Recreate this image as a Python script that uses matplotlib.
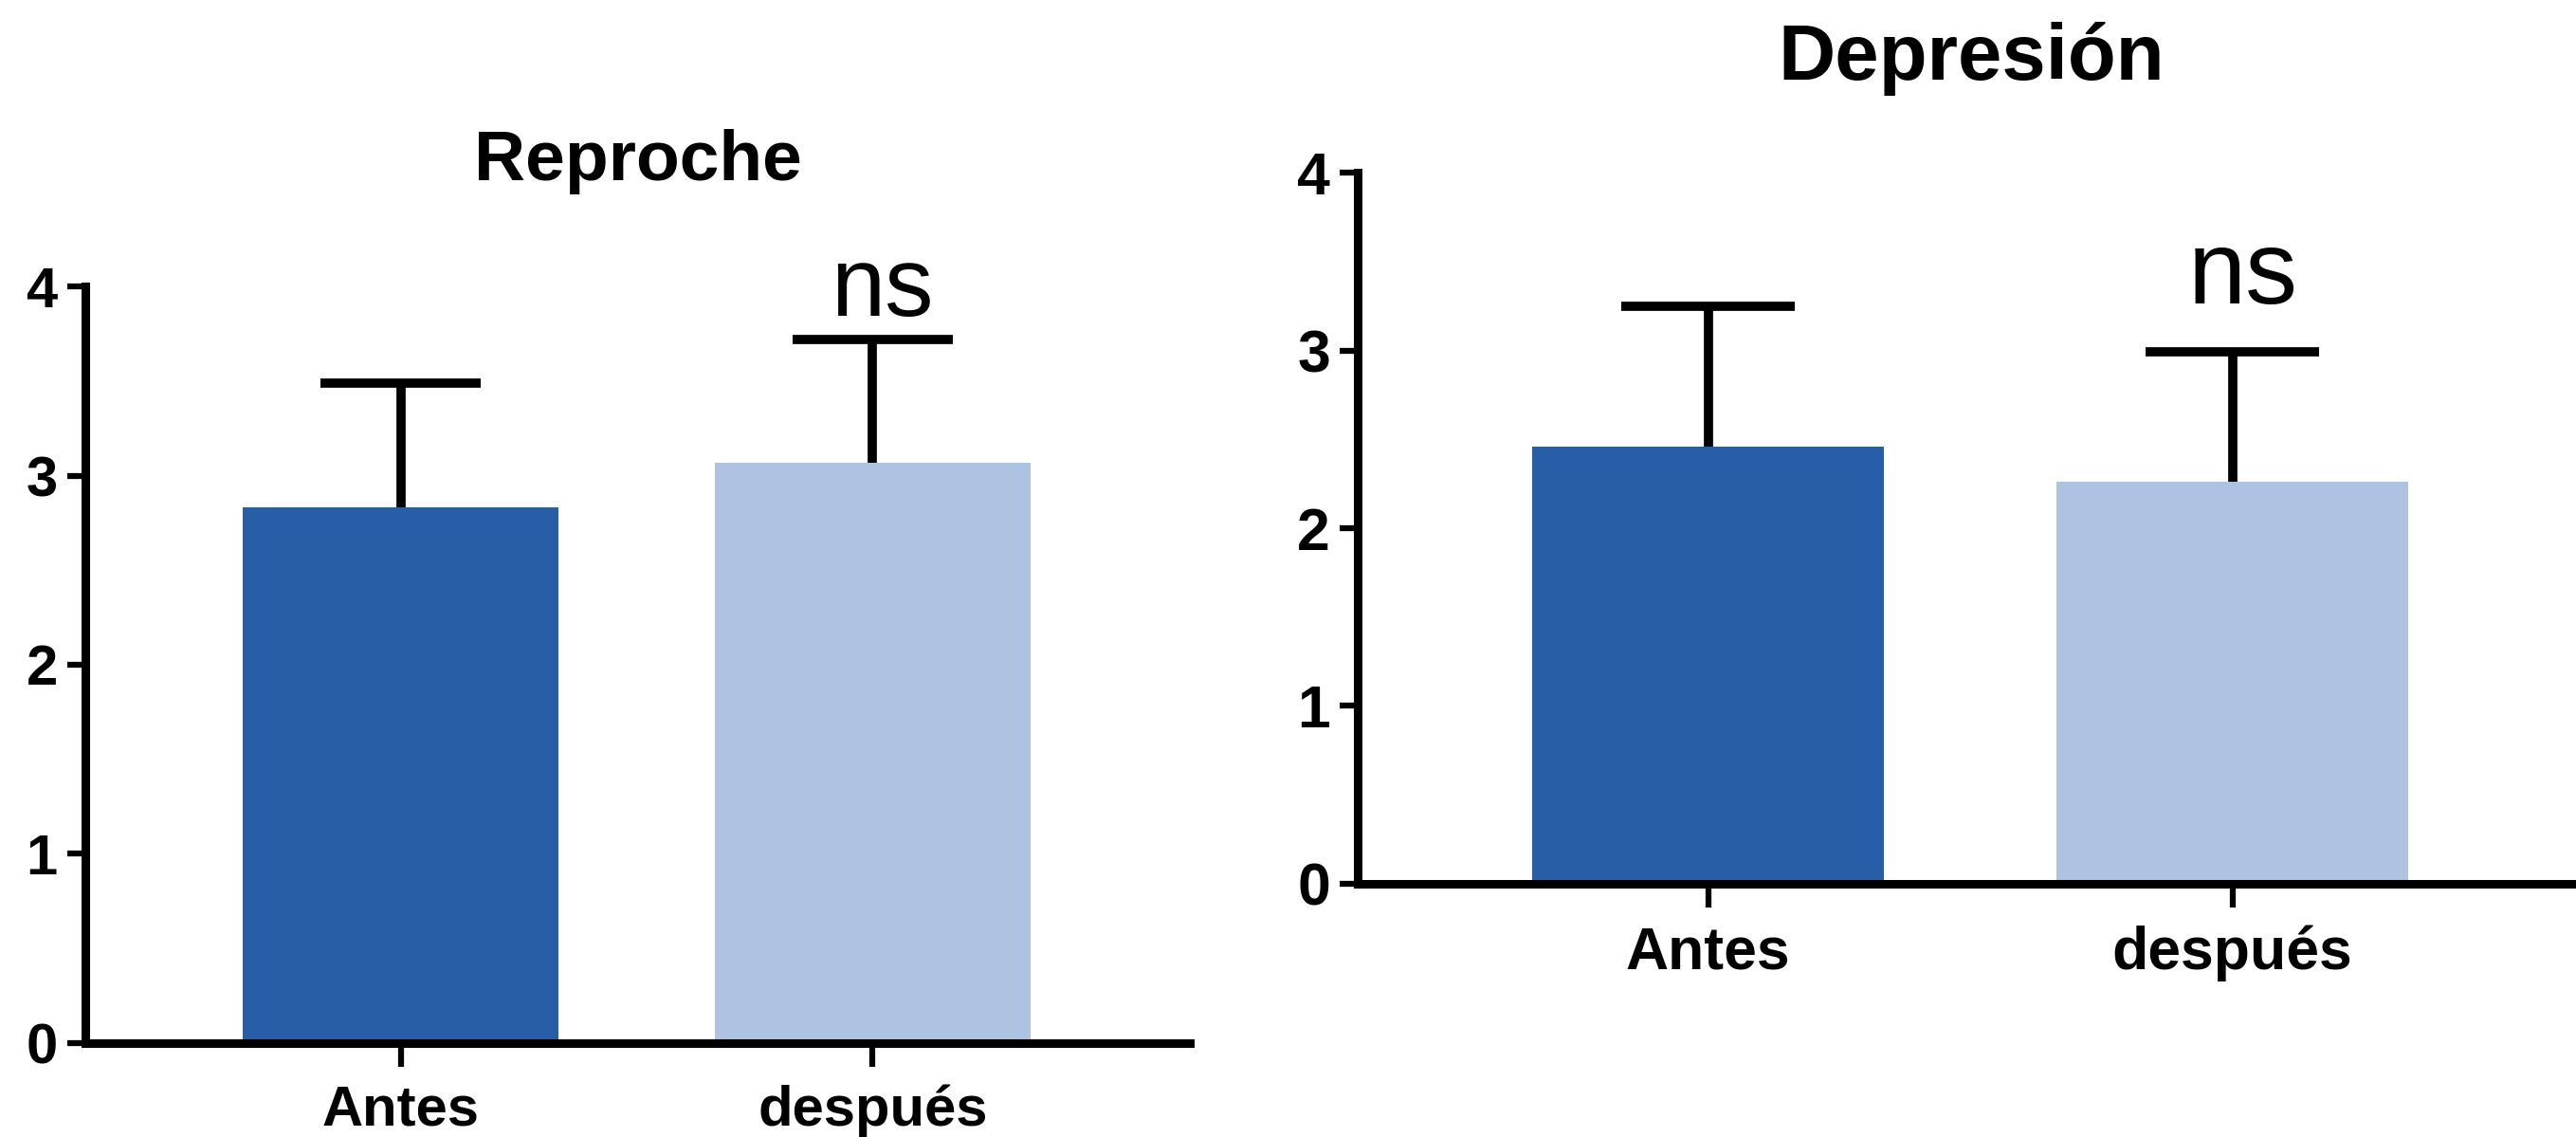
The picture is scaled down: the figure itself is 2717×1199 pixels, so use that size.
import matplotlib
matplotlib.use('Agg')
import matplotlib.pyplot as plt

plt.rcParams['font.family'] = ['Liberation Sans', 'DejaVu Sans']

grupos = ['Antes', 'después']
colores = ['#285DA7', '#AEC3E1']

# Reproche
reproche_media = [2.83, 3.07]
reproche_error = [0.66, 0.65]

# Depresión
depresion_media = [2.46, 2.26]
depresion_error = [0.79, 0.73]

signif = 'ns'


def panel(ax, medias, errores, titulo, tam_tick, tam_ns, pos_ns, tam_tit, y_tit, ancho_cap):
    x = [0, 1]
    ax.bar(x, medias, width=0.67, color=colores, zorder=2)
    # solo la mitad superior del error, como en Prism
    tops = [m + e for m, e in zip(medias, errores)]
    ax.vlines(x, medias, tops, colors='black', linewidth=7, zorder=1)
    ax.hlines(tops, [i - ancho_cap for i in x], [i + ancho_cap for i in x],
              colors='black', linewidth=7, zorder=1)
    ax.set_xlim(-0.668, 1.672)
    ax.set_ylim(0, 4)
    ax.set_yticks([0, 1, 2, 3, 4])
    ax.set_xticks(x)
    ax.set_xticklabels(grupos)
    ax.spines['top'].set_visible(False)
    ax.spines['right'].set_visible(False)
    ax.spines['left'].set_linewidth(6.5)
    ax.spines['bottom'].set_linewidth(6.5)
    ax.tick_params(axis='y', length=14, width=4.5, pad=7, labelsize=tam_tick)
    ax.tick_params(axis='x', length=18, width=4.5, pad=13, labelsize=tam_tick)
    for lab in ax.get_xticklabels() + ax.get_yticklabels():
        lab.set_fontweight('bold')
    ax.text(1.02, pos_ns, signif, ha='center', va='baseline', fontsize=tam_ns, clip_on=False)
    ax.set_title(titulo, fontsize=tam_tit, fontweight='bold', y=y_tit, va='baseline')


fig = plt.figure(figsize=(27.17, 11.99), dpi=100)

ax1 = fig.add_axes([0.0331, 0.0826, 0.4288, 0.6655])
panel(ax1, reproche_media, reproche_error, 'Reproche', 43, 74, 3.845, 54, 1.13, 0.17)

ax2 = fig.add_axes([0.5271, 0.2227, 0.4763, 0.6255])
panel(ax2, depresion_media, depresion_error, 'Depresión', 45, 79, 3.265, 60, 1.12, 0.165)

fig.savefig('out.png', dpi=100)
